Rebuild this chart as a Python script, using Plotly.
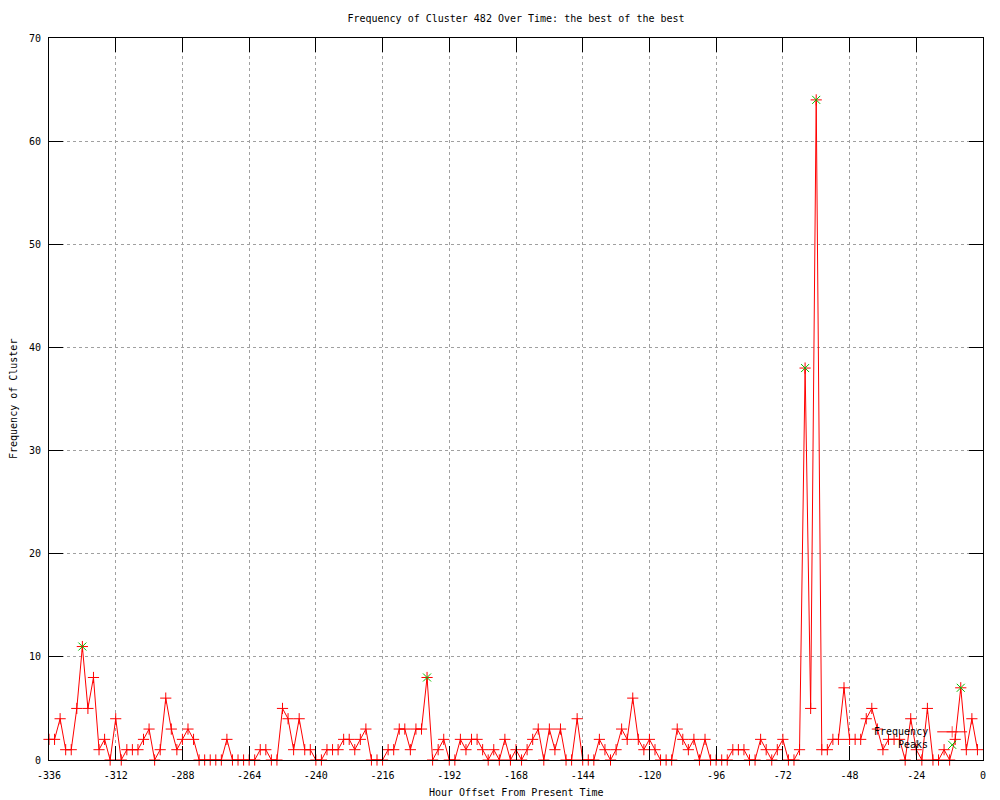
import plotly.graph_objects as go

# ---- data ----
hours = list(range(-336, 0, 2))
freq = [
    2, 2, 4, 1, 1, 5, 11, 5, 8, 1, 2, 0,      # -336 .. -314
    4, 0, 1, 1, 1, 2, 3, 0, 1, 6, 3, 1,       # -312 .. -290
    2, 3, 2, 0, 0, 0, 0, 0, 2, 0, 0, 0,       # -288 .. -266
    0, 0, 1, 1, 0, 0, 5, 4, 1, 4, 1, 1,       # -264 .. -242
    0, 0, 1, 1, 1, 2, 2, 1, 2, 3, 0, 0,       # -240 .. -218
    0, 1, 1, 3, 3, 1, 3, 3, 8, 0, 1, 2,       # -216 .. -194
    0, 0, 2, 1, 2, 2, 1, 0, 1, 0, 2, 0,       # -192 .. -170
    1, 0, 1, 2, 3, 0, 3, 1, 3, 0, 0, 4,       # -168 .. -146
    0, 0, 0, 2, 1, 0, 1, 3, 2, 6, 2, 1,       # -144 .. -122
    2, 1, 0, 0, 0, 3, 2, 1, 2, 0, 2, 0,       # -120 .. -98
    0, 0, 0, 1, 1, 1, 0, 0, 2, 1, 0, 1,       # -96 .. -74
    2, 0, 0, 1, 38, 5, 64, 1, 1, 2, 2, 7,     # -72 .. -50
    2, 2, 2, 4, 5, 3, 1, 2, 2, 2, 0, 4,       # -48 .. -26
    1, 0, 5, 0, 0, 1, 0, 2, 7, 1, 4, 1,       # -24 .. -2
]
peak_hours = [-324, -200, -64, -60, -8]
peak_vals = [11, 8, 38, 64, 7]

x_ticks = list(range(-336, 1, 24))
x_tick_labels = [str(v) for v in x_ticks]
y_ticks = list(range(0, 71, 10))
y_tick_labels = [str(v) for v in y_ticks]

title_text = "Frequency of Cluster 482 Over Time: the best of the best"
x_title = "Hour Offset From Present Time"
y_title = "Frequency of Cluster"
series_names = ["Frequency", "Peaks"]

FONT = "DejaVu Sans Mono"
RED = "#ff0000"
GREEN = "#00c000"
MS = 8

fig = go.Figure()
fig.add_trace(go.Scatter(
    x=hours, y=freq, mode="lines+markers", name=series_names[0],
    line=dict(color=RED, width=1),
    marker=dict(symbol="cross-thin", size=MS, color=RED, line=dict(color=RED, width=1)),
    cliponaxis=False, showlegend=False,
))
fig.add_trace(go.Scatter(
    x=peak_hours, y=peak_vals, mode="markers", name=series_names[1],
    marker=dict(symbol="x-thin", size=MS, color=GREEN, line=dict(color=GREEN, width=1)),
    cliponaxis=False, showlegend=False,
))

# key samples on an overlay axis spanning the plot area (0..1)
key_y = [0.039, 0.021]
fig.add_trace(go.Scatter(
    x=[0.951, 0.967, 0.983], y=[key_y[0]] * 3, xaxis="x2", yaxis="y2",
    mode="lines+markers", line=dict(color=RED, width=1),
    marker=dict(symbol="cross-thin", size=[0, MS, 0], color=RED, line=dict(color=RED, width=1)),
    showlegend=False, hoverinfo="skip", cliponaxis=False,
))
fig.add_trace(go.Scatter(
    x=[0.967], y=[key_y[1]], xaxis="x2", yaxis="y2", mode="markers",
    marker=dict(symbol="x-thin", size=MS, color=GREEN, line=dict(color=GREEN, width=1)),
    showlegend=False, hoverinfo="skip", cliponaxis=False,
))

axis_common = dict(
    showline=True, linecolor="black", linewidth=1, mirror="ticks",
    ticks="inside", ticklen=14, tickcolor="black", tickwidth=1,
    showgrid=True, gridcolor="#a0a0a0", griddash="dot", gridwidth=1,
    zeroline=False, tickfont=dict(family=FONT, size=10, color="black"),
)

fig.update_layout(
    width=1000, height=800,
    margin=dict(l=49, r=17, t=38, b=40),
    paper_bgcolor="white", plot_bgcolor="white",
    font=dict(family=FONT, size=10, color="black"),
    title=dict(text=title_text, x=0.5, xref="paper", xanchor="center",
               y=1 - 18 / 800, yref="container", yanchor="middle",
               font=dict(family=FONT, size=10, color="black")),
    xaxis=dict(range=[-336, 0], tickmode="array", tickvals=x_ticks, ticktext=x_tick_labels,
               ticklabelstandoff=6, **axis_common),
    yaxis=dict(range=[0, 70], tickmode="array", tickvals=y_ticks, ticktext=y_tick_labels,
               ticklabelstandoff=5, **axis_common),
    xaxis2=dict(range=[0, 1], overlaying="x", visible=False, domain=[0, 1]),
    yaxis2=dict(range=[0, 1], overlaying="y", visible=False),
    annotations=[
        dict(text=series_names[0], x=0.943, y=key_y[0], xref="paper", yref="paper",
             xanchor="right", yanchor="middle", showarrow=False,
             font=dict(family=FONT, size=10, color="black")),
        dict(text=series_names[1], x=0.943, y=key_y[1], xref="paper", yref="paper",
             xanchor="right", yanchor="middle", showarrow=False,
             font=dict(family=FONT, size=10, color="black")),
        dict(text=x_title, x=0.5, y=-(793 - 760) / 722, xref="paper", yref="paper",
             xanchor="center", yanchor="middle", showarrow=False,
             font=dict(family=FONT, size=10, color="black")),
        dict(text=y_title, x=(13 - 49) / 934, y=0.5, xref="paper", yref="paper",
             xanchor="center", yanchor="middle", textangle=-90, showarrow=False,
             font=dict(family=FONT, size=10, color="black")),
    ],
)

fig.write_html("out.html", config={"displayModeBar": False},
               post_script="document.body.style.margin='0px';")
